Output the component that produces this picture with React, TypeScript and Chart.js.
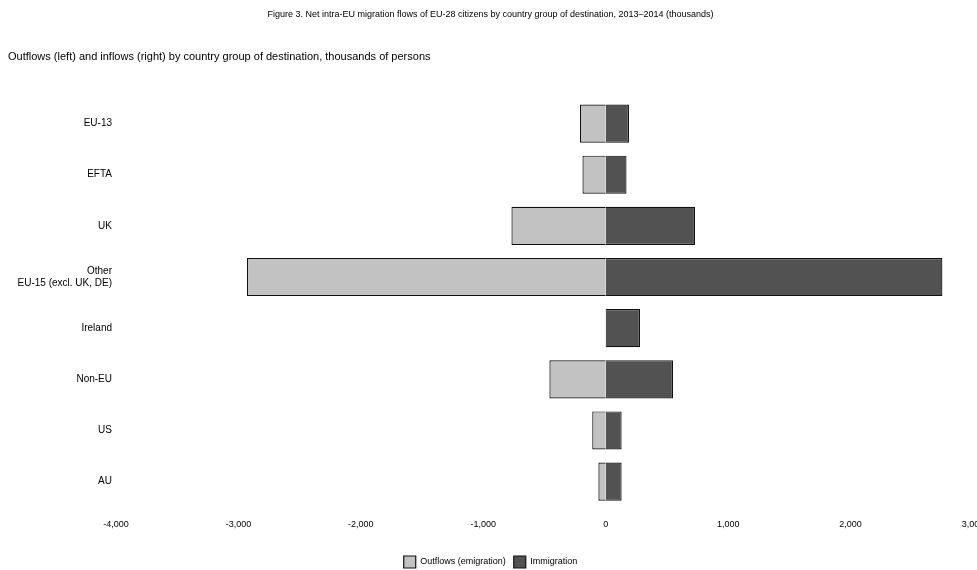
import React, { useEffect, useRef } from "react";
import { Chart, registerables } from "chart.js";

Chart.register(...registerables);

const TITLE = "Figure 3. Net intra-EU migration flows of EU-28 citizens by country group of destination, 2013–2014 (thousands)";
const SUBTITLE = "Outflows (left) and inflows (right) by country group of destination, thousands of persons";

const CATEGORIES: (string | string[])[] = [
  "EU-13",
  "EFTA",
  "UK",
  ["Other", "EU-15 (excl. UK, DE)"],
  "Ireland",
  "Non-EU",
  "US",
  "AU",
];

const OUTFLOWS = [-210, -190, -770, -2930, 0, -460, -110, -60];
const INFLOWS = [190, 170, 730, 2750, 280, 550, 130, 130];

const SERIES_NAMES = ["Outflows (emigration)", "Immigration"];

const TICK_VALUES = [-4000, -3000, -2000, -1000, 0, 1000, 2000, 3000];
const TICK_LABELS = ["-4,000", "-3,000", "-2,000", "-1,000", "0", "1,000", "2,000", "3,000"];

const FONT = "'Liberation Sans', Arial, sans-serif";

export default function App() {
  const ref = useRef<HTMLCanvasElement | null>(null);

  useEffect(() => {
    if (!ref.current) return;
    const chart = new Chart(ref.current, {
      type: "bar",
      data: {
        labels: CATEGORIES,
        datasets: [
          {
            label: SERIES_NAMES[0],
            data: OUTFLOWS,
            backgroundColor: "#c2c2c2",
            borderColor: "#111",
            borderWidth: 1.2,
            categoryPercentage: 0.82,
            barPercentage: 0.91,
          },
          {
            label: SERIES_NAMES[1],
            data: INFLOWS,
            backgroundColor: "#525252",
            borderColor: "#111",
            borderWidth: 1.2,
            categoryPercentage: 0.82,
            barPercentage: 0.91,
          },
        ],
      },
      options: {
        indexAxis: "y",
        animation: false,
        responsive: true,
        maintainAspectRatio: false,
        layout: { padding: { left: 8, right: 4, top: 0, bottom: -8 } },
        plugins: {
          title: {
            display: true,
            text: TITLE,
            color: "#000",
            font: { family: FONT, size: 9, weight: "normal" },
            padding: { top: 9, bottom: 0 },
          },
          subtitle: {
            display: true,
            text: SUBTITLE,
            align: "start",
            color: "#000",
            font: { family: FONT, size: 11, weight: "normal" },
            padding: { top: 31, bottom: 34 },
          },
          legend: {
            position: "bottom",
            labels: {
              color: "#000",
              font: { family: FONT, size: 9 },
              boxWidth: 12,
              boxHeight: 12,
              padding: 8,
            },
          },
          tooltip: { enabled: false },
        },
        scales: {
          x: {
            stacked: true,
            min: TICK_VALUES[0],
            max: TICK_VALUES[TICK_VALUES.length - 1],
            grid: { display: false, drawTicks: false },
            border: { display: false },
            ticks: {
              color: "#000",
              font: { family: FONT, size: 9 },
              padding: 12,
              maxRotation: 0,
              autoSkip: false,
              callback: (_v: any, i: number) => TICK_LABELS[i],
            },
            afterBuildTicks: (s: any) => {
              s.ticks = TICK_VALUES.map((v) => ({ value: v }));
            },
            afterFit: (s: any) => {
              s.paddingLeft = 0;
              s.paddingRight = 0;
              s.height += 6;
            },
          },
          y: {
            stacked: true,
            grid: { display: false, drawTicks: false },
            border: { display: false },
            ticks: {
              color: "#000",
              font: { family: FONT, size: 10 },
              padding: 4,
            },
            afterFit: (s: any) => {
              s.width = 108;
            },
          },
        },
      },
    });
    return () => chart.destroy();
  }, []);

  return (
    <div style={{ position: "fixed", left: 0, top: 0, width: 977, height: 570, background: "#fff" }}>
      <canvas ref={ref} />
    </div>
  );
}
